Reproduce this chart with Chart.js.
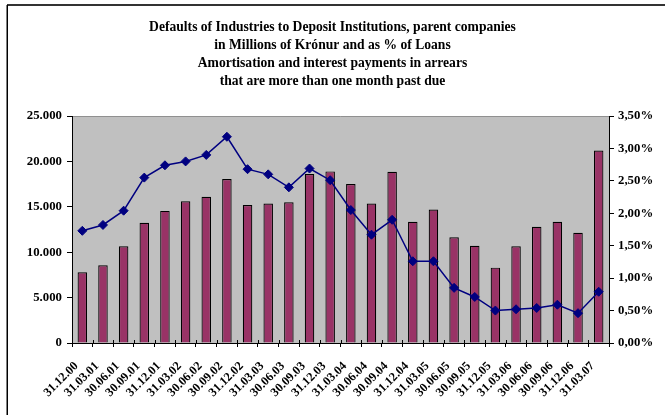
<!DOCTYPE html>
<html>
<head>
<meta charset="utf-8">
<script src="https://cdn.jsdelivr.net/npm/chart.js@4.4.1/dist/chart.umd.min.js"></script>
<style>
  html, body { margin: 0; padding: 0; background: #ffffff; }
  #c { display: block; }
</style>
</head>
<body>
<canvas id="c" width="665" height="415"></canvas>
<script>
const categories = ["31.12.00","31.03.01","30.06.01","30.09.01","31.12.01","31.03.02","30.06.02","30.09.02",
  "31.12.02","31.03.03","30.06.03","30.09.03","31.12.03","31.03.04","30.06.04","30.09.04","31.12.04",
  "31.03.05","30.06.05","30.09.05","31.12.05","31.03.06","30.06.06","30.09.06","31.12.06","31.03.07"];
const defaultsMillions = [7800, 8550, 10650, 13250, 14550, 15600, 16100, 18050,
  15200, 15350, 15500, 18600, 18900, 17500, 15350, 18850, 13350,
  14700, 11650, 10700, 8300, 10650, 12800, 13350, 12150, 21200];
const defaultsPct = [1.73, 1.82, 2.04, 2.55, 2.74, 2.80, 2.90, 3.18,
  2.68, 2.60, 2.40, 2.69, 2.51, 2.05, 1.67, 1.90, 1.26,
  1.26, 0.85, 0.71, 0.50, 0.52, 0.54, 0.59, 0.46, 0.79];
const leftTicks = [0, 5000, 10000, 15000, 20000, 25000];
const rightTicks = [0, 0.5, 1.0, 1.5, 2.0, 2.5, 3.0, 3.5];
const titleLines = ["Defaults of Industries to Deposit Institutions, parent companies",
  "in Millions of Krónur and as % of Loans",
  "Amortisation and interest payments in arrears",
  "that are more than one month past due"];

const FONT = "'Liberation Serif', 'Times New Roman', serif";

const framePlugin = {
  id: 'frame',
  beforeDraw(chart) {
    const ctx = chart.ctx, a = chart.chartArea;
    ctx.save();
    ctx.fillStyle = '#ffffff';
    ctx.fillRect(0, 0, chart.width, chart.height);
    ctx.fillStyle = '#c0c0c0';
    ctx.fillRect(a.left, a.top, a.right - a.left, a.bottom - a.top);
    ctx.strokeStyle = '#909090';
    ctx.lineWidth = 1;
    ctx.beginPath();
    ctx.moveTo(a.left, a.top + 0.5);
    ctx.lineTo(a.right, a.top + 0.5);
    ctx.stroke();
    // outer frame (top and left)
    ctx.strokeStyle = '#333333';
    ctx.lineWidth = 2;
    ctx.beginPath();
    ctx.moveTo(7, 5);
    ctx.lineTo(chart.width, 5);
    ctx.stroke();
    ctx.strokeStyle = '#000000';
    ctx.lineWidth = 1.5;
    ctx.beginPath();
    ctx.moveTo(7.25, 5);
    ctx.lineTo(7.25, chart.height);
    ctx.stroke();
    ctx.restore();
  },
  afterDraw(chart) {
    // small inward tick marks on the category axis (crossing the axis line)
    const ctx = chart.ctx, xs = chart.scales.x, n = categories.length;
    ctx.save();
    ctx.strokeStyle = '#000000';
    ctx.lineWidth = 1;
    ctx.beginPath();
    for (let i = 0; i <= n; i++) {
      const px = Math.round(xs.left + i * (xs.right - xs.left) / n) + 0.5;
      ctx.moveTo(px, xs.top - 3);
      ctx.lineTo(px, xs.top);
    }
    ctx.stroke();
    ctx.restore();
  }
};

new Chart(document.getElementById('c'), {
  data: {
    labels: categories,
    datasets: [
      {
        type: 'line',
        label: '% of loans',
        data: defaultsPct,
        yAxisID: 'yR',
        borderColor: '#000080',
        backgroundColor: '#000080',
        borderWidth: 1.5,
        pointStyle: 'rectRot',
        pointRadius: 4.5,
        pointBorderWidth: 1,
        tension: 0,
        order: 0
      },
      {
        type: 'bar',
        label: 'Millions of Krónur',
        data: defaultsMillions,
        yAxisID: 'yL',
        backgroundColor: '#993366',
        borderColor: '#000000',
        borderWidth: 1.2,
        barPercentage: 0.46,
        categoryPercentage: 1.0,
        order: 1
      }
    ]
  },
  options: {
    responsive: false,
    animation: false,
    devicePixelRatio: 1,
    layout: { padding: { left: 0, right: 0, top: 0, bottom: 0 } },
    plugins: {
      legend: { display: false },
      tooltip: { enabled: false },
      title: {
        display: true,
        text: titleLines,
        color: '#000000',
        font: { family: FONT, size: 13.6, weight: 'bold', lineHeight: '18px' },
        padding: { top: 18, bottom: 26 }
      }
    },
    scales: {
      x: {
        offset: true,
        grid: { display: true, offset: true, drawOnChartArea: false, drawTicks: true, tickLength: 4, color: '#000000' },
        border: { display: true, color: '#000000', width: 1 },
        ticks: { color: '#000000', font: { family: FONT, size: 12.3, weight: 'bold' }, minRotation: 45, maxRotation: 45, autoSkip: false, padding: 12, labelOffset: -6 },
        afterFit(s) { s.height = 72; }
      },
      yL: {
        position: 'left',
        min: 0, max: 25000,
        afterBuildTicks(s) { s.ticks = leftTicks.map(v => ({ value: v })); },
        grid: { display: true, drawOnChartArea: false, drawTicks: true, tickLength: 5, color: '#000000' },
        border: { display: true, color: '#000000', width: 1 },
        ticks: {
          color: '#000000', padding: 5,
          font: { family: FONT, size: 12.8, weight: 'bold' },
          callback(v) { return v === 0 ? '0' : String(v).replace(/\B(?=(\d{3})+(?!\d))/g, '.'); }
        },
        afterFit(s) { s.width = 72; }
      },
      yR: {
        position: 'right',
        min: 0, max: 3.5,
        afterBuildTicks(s) { s.ticks = rightTicks.map(v => ({ value: v })); },
        grid: { display: true, drawOnChartArea: false, drawTicks: true, tickLength: 5, color: '#000000' },
        border: { display: true, color: '#000000', width: 1 },
        ticks: {
          color: '#000000', padding: 4,
          font: { family: FONT, size: 12.8, weight: 'bold' },
          callback(v) { return v.toFixed(2).replace('.', ',') + '%'; }
        },
        afterFit(s) { s.width = 56; }
      }
    }
  },
  plugins: [framePlugin]
});
</script>
</body>
</html>
